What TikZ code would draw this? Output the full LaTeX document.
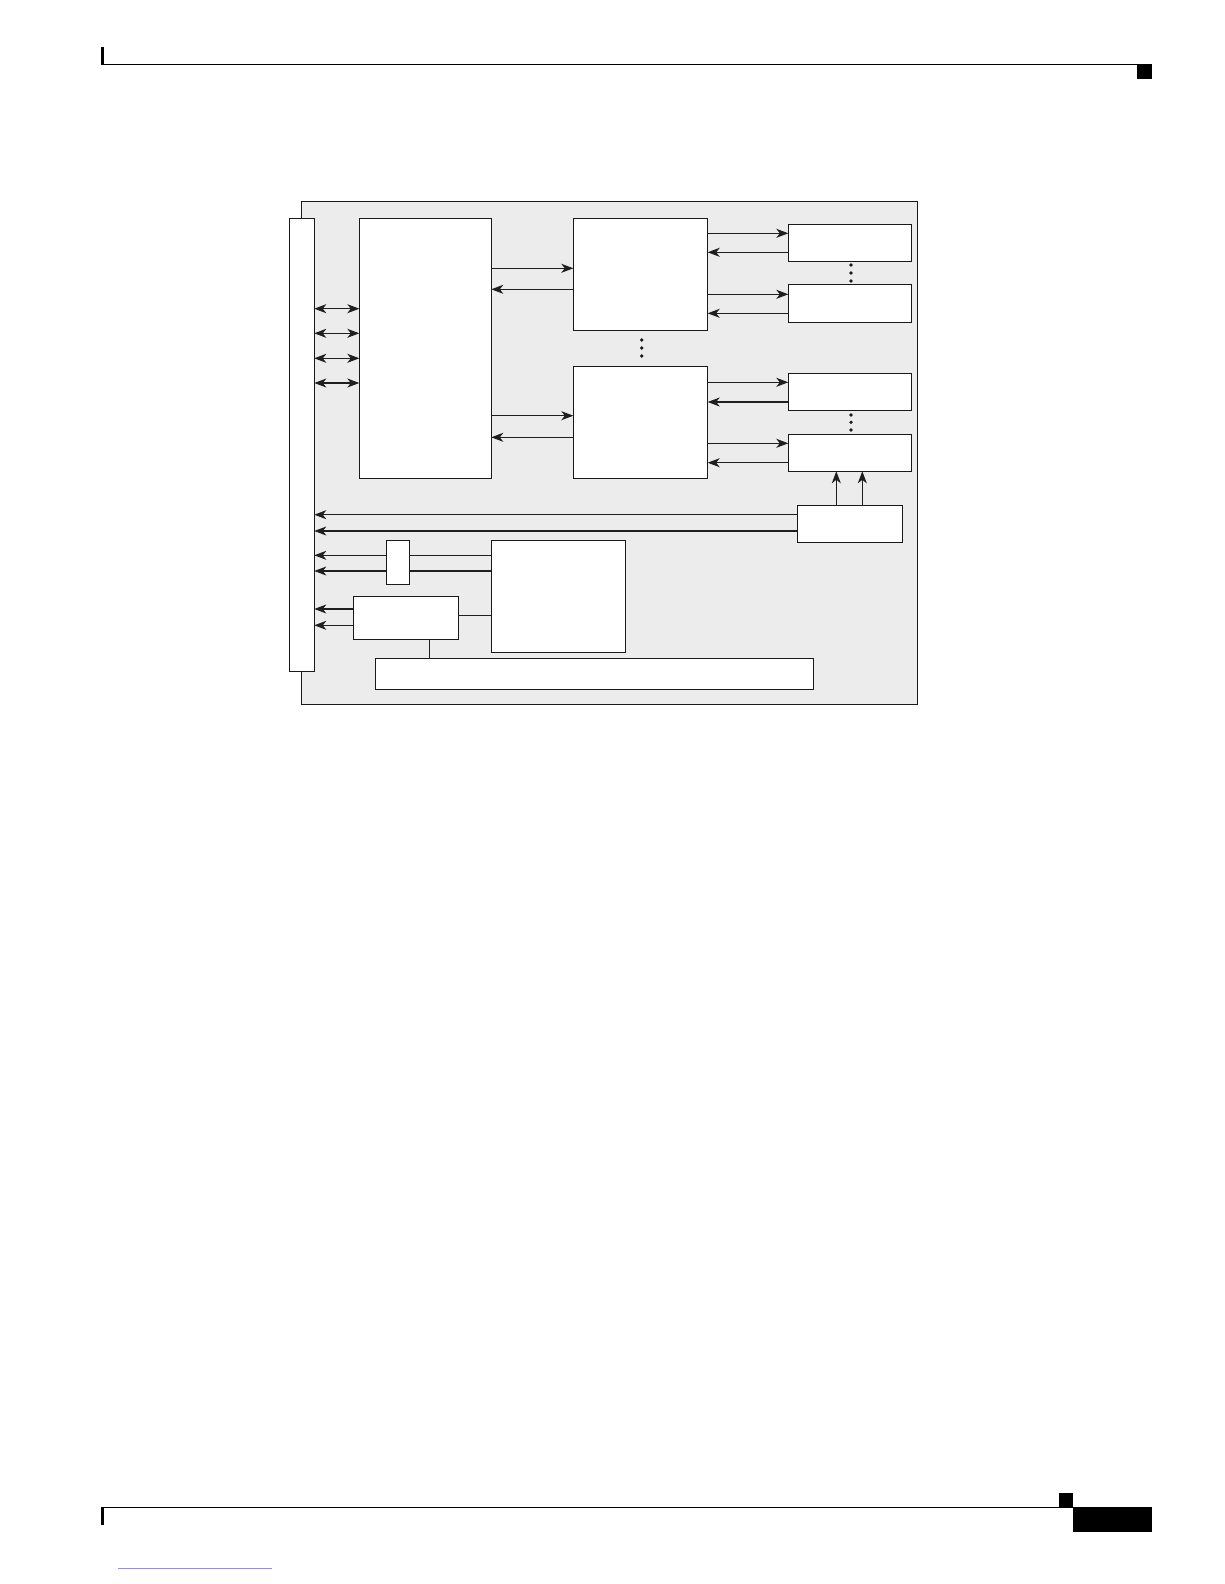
\documentclass[tikz,border=0pt]{standalone}
\usetikzlibrary{arrows.meta}
\begin{document}
\begin{tikzpicture}[x=1pt,y=-1pt,
  box/.style={draw=black!90, line width=1.25pt, fill=white, inner sep=0pt, outer sep=0pt, anchor=north west},
  conn/.style={line width=1.05pt, draw=black!88},
  arr/.style={conn, -{Stealth[length=12pt,width=9pt,inset=3.5pt]}},
  dbl/.style={conn, {Stealth[length=12pt,width=9pt,inset=3.5pt]}-{Stealth[length=12pt,width=9pt,inset=3.5pt]}},
  dotn/.style={circle, fill=black!90, inner sep=0pt, minimum size=3.6pt}]
\useasboundingbox (0,0) rectangle (1224,1584);
\fill[white] (0,0) rectangle (1224,1584);
% header
\draw[line width=1.3pt] (101,64.3) -- (1137,64.3);
\fill (101,46.7) rectangle (104.3,65);
\fill (1137,63.7) rectangle (1152,79);
% footer
\draw[line width=1.3pt] (101,1507.3) -- (1059,1507.3);
\fill (101,1506.6) rectangle (104.3,1525);
\fill (1059.3,1493) rectangle (1073,1508);
\fill (1073,1506.6) rectangle (1152,1532);
\draw[blue!45, line width=0.6pt] (118,1568) -- (272,1568);
% diagram
\node[box, fill=gray!15, minimum width=616pt, minimum height=502.6pt] (outer) at (301.3,201.7) {};
\node[box, minimum width=25pt, minimum height=453pt] (bar) at (289.3,218.3) {};
\node[box, minimum width=132pt, minimum height=260pt] (A) at (359.3,218.3) {};
\node[box, minimum width=134.4pt, minimum height=112pt] (B1) at (573.3,218.3) {};
\node[box, minimum width=134.4pt, minimum height=112pt] (B2) at (573.3,366.3) {};
\node[box, minimum width=123.4pt, minimum height=37pt] (C1) at (788.3,224.3) {};
\node[box, minimum width=123.4pt, minimum height=38pt] (C2) at (788.3,284.3) {};
\node[box, minimum width=123.4pt, minimum height=37pt] (C3) at (788.3,373.3) {};
\node[box, minimum width=123.4pt, minimum height=37pt] (C4) at (788.3,434.3) {};
\node[box, minimum width=105pt, minimum height=37pt] (D) at (797.3,505.3) {};
\node[box, minimum width=23pt, minimum height=44pt] (E) at (386.3,540.3) {};
\node[box, minimum width=134pt, minimum height=112pt] (F) at (491.3,540.3) {};
\node[box, minimum width=105pt, minimum height=43pt] (G) at (353.3,596.3) {};
\node[box, minimum width=438pt, minimum height=31pt] (H) at (375.3,658.3) {};
% bar <-> A
\foreach \yy in {308.7,333.3,358.3,383}
  \draw[dbl] (bar.east |- 0,\yy) -- (A.west |- 0,\yy);
% A <-> B
\draw[arr] (A.east |- 0,268.3) -- (B1.west |- 0,268.3);
\draw[arr] (B1.west |- 0,289.3) -- (A.east |- 0,289.3);
\draw[arr] (A.east |- 0,415.7) -- (B2.west |- 0,415.7);
\draw[arr] (B2.west |- 0,437.3) -- (A.east |- 0,437.3);
% B <-> C
\draw[arr] (B1.east |- 0,233.3) -- (C1.west |- 0,233.3);
\draw[arr] (C1.west |- 0,252.3) -- (B1.east |- 0,252.3);
\draw[arr] (B1.east |- 0,294.3) -- (C2.west |- 0,294.3);
\draw[arr] (C2.west |- 0,313.3) -- (B1.east |- 0,313.3);
\draw[arr] (B2.east |- 0,382.3) -- (C3.west |- 0,382.3);
\draw[arr] (C3.west |- 0,402) -- (B2.east |- 0,402);
\draw[arr] (B2.east |- 0,443.3) -- (C4.west |- 0,443.3);
\draw[arr] (C4.west |- 0,462.7) -- (B2.east |- 0,462.7);
% D -> C4
\draw[arr] (D.north -| 836.3,0) -- (C4.south -| 836.3,0);
\draw[arr] (D.north -| 862.3,0) -- (C4.south -| 862.3,0);
% D -> bar
\draw[arr] (D.west |- 0,514.7) -- (bar.east |- 0,514.7);
\draw[arr] (D.west |- 0,531) -- (bar.east |- 0,531);
% F -> E -> bar
\draw[conn] (F.west |- 0,555.3) -- (E.east |- 0,555.3);
\draw[conn] (F.west |- 0,571) -- (E.east |- 0,571);
\draw[arr] (E.west |- 0,555.3) -- (bar.east |- 0,555.3);
\draw[arr] (E.west |- 0,571) -- (bar.east |- 0,571);
% G -> bar, G - F, G - H
\draw[arr] (G.west |- 0,609) -- (bar.east |- 0,609);
\draw[arr] (G.west |- 0,625.3) -- (bar.east |- 0,625.3);
\draw[conn] (G.east |- 0,615.3) -- (F.west |- 0,615.3);
\draw[conn] (G.south -| 429.3,0) -- (H.north -| 429.3,0);
% dots
\foreach \yy [count=\i] in {265,273,281} \node[dotn] (dc\i) at (851,\yy) {};
\foreach \yy [count=\i] in {340,348,356} \node[dotn] (db\i) at (641.7,\yy) {};
\foreach \yy [count=\i] in {415,422.3,430} \node[dotn] (dd\i) at (851,\yy) {};
\end{tikzpicture}
\end{document}
